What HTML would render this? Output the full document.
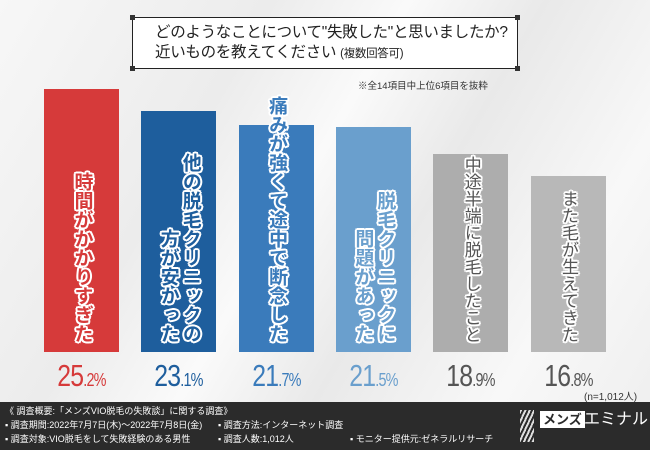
<!DOCTYPE html>
<html><head><meta charset="utf-8">
<style>
*{margin:0;padding:0;box-sizing:border-box}
body{width:650px;height:450px;overflow:hidden;font-family:"Liberation Sans","Noto Sans CJK JP",sans-serif;background:#f3f3f3;position:relative}
.bg{position:absolute;inset:0;background:linear-gradient(120deg,#f7f7f7 0%,#ececec 30%,#fafafa 45%,#e9e9e9 60%,#f8f8f8 80%,#eeeeee 100%)}
.title{position:absolute;left:132px;top:17px;width:386px;height:52px;border:1.5px solid #222;background:#fff;font-size:15.5px;line-height:20px;padding:5px 0 0 22px;color:#222;white-space:nowrap;letter-spacing:-0.3px}
.title small{font-size:11.5px}
.corner{position:absolute;width:5px;height:5px;background:#333}
.note{position:absolute;left:358px;top:78px;font-size:9.5px;color:#333;white-space:nowrap}
.bar{position:absolute}
.lbl{position:absolute;writing-mode:vertical-rl;font-weight:bold;font-size:19px;line-height:22px;text-align:end;white-space:pre;
text-shadow:2px 0 0 #fff,-2px 0 0 #fff,0 2px 0 #fff,0 -2px 0 #fff,1.5px 1.5px 0 #fff,-1.5px 1.5px 0 #fff,1.5px -1.5px 0 #fff,-1.5px -1.5px 0 #fff}
.pct{position:absolute;top:359px;font-size:31px;text-align:center;width:75px;letter-spacing:-1px;white-space:nowrap;transform:scaleX(0.8);line-height:34px}
.pct span{font-size:18px}
.footer{position:absolute;left:0;top:402px;width:650px;height:48px;background:#2b2b2b;color:#fff;font-size:9px;line-height:13px;white-space:nowrap}
</style></head><body>
<div class="bg"></div>
<div class="title">どのようなことについて"失敗した"と思いましたか?<br>近いものを教えてください <small>(複数回答可)</small></div>
<div class="corner" style="left:130px;top:15px"></div>
<div class="corner" style="left:515px;top:15px"></div>
<div class="corner" style="left:130px;top:66px"></div>
<div class="corner" style="left:515px;top:66px"></div>
<div class="note">※全14項目中上位6項目を抜粋</div>
<div id="chart"></div>
<div style="position:absolute;left:584px;top:388px;font-size:10px;color:#333;white-space:nowrap">(n=1,012人)</div>
<div class="footer">
<div style="position:absolute;left:5px;top:3px">《 調査概要:「メンズVIO脱毛の失敗談」に関する調査》</div>
<div style="position:absolute;left:5px;top:17px">▪ 調査期間:2022年7月7日(木)〜2022年7月8日(金)</div>
<div style="position:absolute;left:218px;top:17px">▪ 調査方法:インターネット調査</div>
<div style="position:absolute;left:5px;top:31px">▪ 調査対象:VIO脱毛をして失敗経験のある男性</div>
<div style="position:absolute;left:218px;top:31px">▪ 調査人数:1,012人</div>
<div style="position:absolute;left:350px;top:31px">▪ モニター提供元:ゼネラルリサーチ</div>
<div style="position:absolute;left:520px;top:8px;width:14px;height:32px;background:repeating-linear-gradient(115deg,#ddd 0 2px,transparent 2px 4px)"></div>
<div style="position:absolute;left:540px;top:9px;background:#fff;color:#2b2b2b;font-size:13px;font-weight:bold;padding:0 3px;line-height:17px">メンズ</div>
<div style="position:absolute;left:584px;top:8px;font-size:16px;line-height:20px">エミナル</div>
</div>
<script>
const categories=["時間がかかりすぎた","他の脱毛クリニックの\n方が安かった","痛みが強くて途中で断念した","脱毛クリニックに\n問題があった","中途半端に脱毛したこと","また毛が生えてきた"];
const values=[25.2,23.1,21.7,21.5,18.9,16.8];
const colors=["#d63a3a","#1e5e9d","#3a7bbb","#6a9fcd","#adadad","#b8b8b8"];
const pctColors=["#d63a3a","#1e5e9d","#3a7bbb","#6a9fcd","#555","#555"];
const base=352, scale=10.45, x0=44, step=97.3, bw=75;
const y=v=>base-v*scale;
const chart=document.getElementById('chart');
values.forEach((v,i)=>{
  const x=x0+i*step;
  const b=document.createElement('div');
  b.className='bar';
  
  
  b.style.cssText=`left:${x}px;top:${y(v)}px;width:${bw}px;height:${base-y(v)}px;background:${colors[i]}`;
  chart.appendChild(b);
  const l=document.createElement('div');
  l.className='lbl';
  
  
  l.textContent=categories[i];
  const gray=i>=4;
  l.style.color=gray?'#555':colors[i];
  if(gray){l.style.fontWeight='normal';l.style.fontSize='17px';}
  chart.appendChild(l);
  const w=l.offsetWidth,h=l.offsetHeight;
  l.style.left=(x+bw/2-w/2)+'px';
  l.style.top=(343-h)+'px';
  const p=document.createElement('div');
  p.className='pct';
  
  
  const s=v.toFixed(1).split('.');
  p.innerHTML=s[0]+'<span>.'+s[1]+'%</span>';
  p.style.left=x+'px';
  p.style.color=pctColors[i];
  chart.appendChild(p);
});
</script>
</body></html>
